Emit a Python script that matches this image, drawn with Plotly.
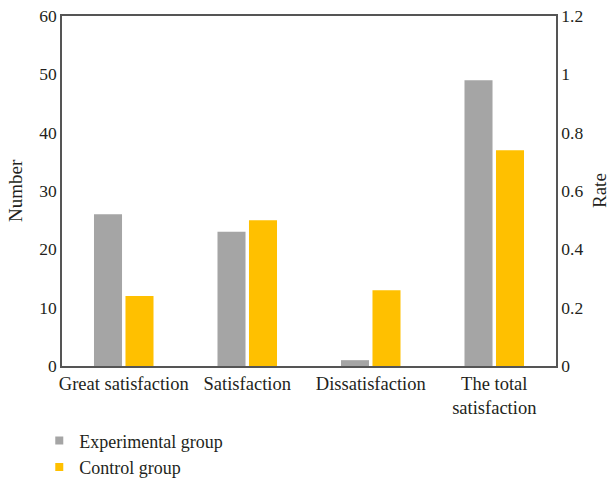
import plotly.graph_objects as go

categories = ["Great satisfaction", "Satisfaction", "Dissatisfaction", "The total<br>satisfaction"]
experimental = [26, 23, 1, 49]
control = [12, 25, 13, 37]
left_ticks = [0, 10, 20, 30, 40, 50, 60]
right_ticks = [0, 0.2, 0.4, 0.6, 0.8, 1, 1.2]
series_names = ["Experimental group", "Control group"]

FONT = "Liberation Serif"
GREY = "#A5A5A5"
GOLD = "#FFC000"
TEXT = "#231F20"
AXIS = "#555"

fig = go.Figure()
for name, vals, col in [(series_names[0], experimental, GREY), (series_names[1], control, GOLD)]:
    fig.add_trace(go.Bar(name=name, x=categories, y=vals, showlegend=False,
                         marker=dict(color=col, line=dict(width=0))))
# small square legend keys
for name, col in [(series_names[0], GREY), (series_names[1], GOLD)]:
    fig.add_trace(go.Scatter(name=name, x=[None], y=[None], mode="markers",
                             marker=dict(symbol="square", size=8, color=col)))
# carrier for the secondary (rate) axis
fig.add_trace(go.Scatter(x=[categories[0]], y=[0], yaxis="y2", mode="markers",
                         marker=dict(opacity=0), showlegend=False, hoverinfo="skip"))

fig.update_layout(
    width=611, height=480,
    margin=dict(l=62, r=55, t=16, b=114, autoexpand=False),
    plot_bgcolor="white", paper_bgcolor="white",
    font=dict(family=FONT, size=17, color=TEXT),
    barmode="group", bargap=0.49, bargroupgap=0.11,
    xaxis=dict(showline=True, linecolor=AXIS, linewidth=1.5, mirror=True,
               ticks="", showgrid=False, tickfont=dict(size=18.5)),
    yaxis=dict(range=[0, 60], tickvals=left_ticks, showgrid=False, zeroline=False,
               showline=True, linecolor=AXIS, linewidth=1.5, ticks="",
               tickfont=dict(size=17.5)),
    yaxis2=dict(range=[0, 1.2], tickvals=right_ticks, overlaying="y", side="right",
                showgrid=False, zeroline=False, showline=True, linecolor=AXIS,
                linewidth=1.5, ticks="", tickfont=dict(size=17.5)),
    legend=dict(x=-0.046, y=0.12, xref="paper", yref="container",
                xanchor="left", yanchor="top", orientation="v",
                font=dict(size=18), itemwidth=30, tracegroupgap=4),
    annotations=[
        dict(text="Number", textangle=-90, x=15, y=191, xref="paper", yref="paper",
             xanchor="center", yanchor="middle", showarrow=False, font=dict(size=19)),
        dict(text="Rate", textangle=-90, x=599, y=191, xref="paper", yref="paper",
             xanchor="center", yanchor="middle", showarrow=False, font=dict(size=19)),
    ],
)

# place axis titles in pixel terms
pw, ph = 611 - 62 - 55, 480 - 16 - 114
for ann in fig.layout.annotations:
    ann.x = (ann.x - 62) / pw
    ann.y = (480 - 114 - ann.y) / ph

fig.write_html("out.html")
